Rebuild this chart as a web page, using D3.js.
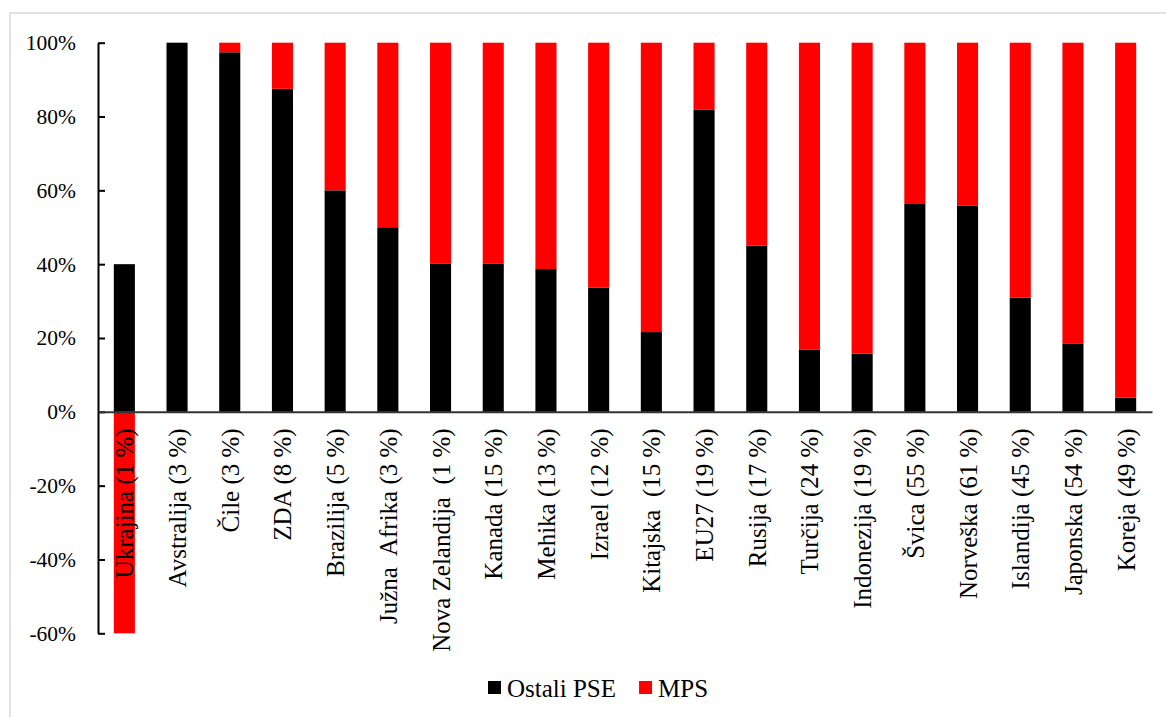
<!DOCTYPE html>
<html>
<head>
<meta charset="utf-8">
<script src="https://cdn.jsdelivr.net/npm/d3@7"></script>
<style>
  body { margin: 0; background: #fff; }
  svg { display: block; }
  svg text { font-family: "Times New Roman", "Liberation Serif", Tinos, "DejaVu Serif", serif; fill: #000; }
</style>
</head>
<body>
<svg id="chart" width="1166" height="717"></svg>
<script>
// Country labels (share of MPS in brackets)
const categories = [
  "Ukrajina (1 %)", "Avstralija (3 %)", "Čile (3 %)", "ZDA (8 %)", "Brazilija (5 %)",
  "Južna  Afrika (3 %)", "Nova Zelandija  (1 %)", "Kanada (15 %)", "Mehika (13 %)", "Izrael (12 %)",
  "Kitajska  (15 %)", "EU27 (19 %)", "Rusija (17 %)", "Turčija (24 %)", "Indonezija (19 %)",
  "Švica (55 %)", "Norveška (61 %)", "Islandija (45 %)", "Japonska (54 %)", "Koreja (49 %)"
];

// Structure of support, % of total
const ostaliPSE = [40, 100, 97.4, 87.5, 60, 50, 40.2, 40.2, 38.7, 33.6,
                   21.6, 81.8, 45, 16.9, 15.8, 56.3, 55.8, 30.9, 18.4, 3.8];
const mps       = [-60, 0, 2.6, 12.5, 40, 50, 59.8, 59.8, 61.3, 66.4,
                   78.4, 18.2, 55, 83.1, 84.2, 43.7, 44.2, 69.1, 81.6, 96.2];

const seriesNames  = ["Ostali PSE", "MPS"];
const seriesColors = ["#000000", "#ff0000"];
const yTicks = [-60, -40, -20, 0, 20, 40, 60, 80, 100];

const serif = '"Times New Roman", "Liberation Serif", Tinos, "DejaVu Serif", serif';
const svg = d3.select("#chart");

// outer frame
svg.append("rect")
  .attr("x", 10).attr("y", 13)
  .attr("width", 1300).attr("height", 800)
  .attr("fill", "none").attr("stroke", "#d9d9d9").attr("stroke-width", 1.5);

const x = d3.scaleBand()
  .domain(categories)
  .range([98, 1152])
  .paddingInner(0.6)
  .paddingOuter(0.3);

const y = d3.scaleLinear()
  .domain([-60, 100])
  .range([633.3, 42.7]);

// rows for the stack layout
const rows = categories.map((c, i) => ({
  category: c,
  [seriesNames[0]]: ostaliPSE[i],
  [seriesNames[1]]: mps[i]
}));

const stacked = d3.stack()
  .keys(seriesNames)
  .offset(d3.stackOffsetDiverging)(rows);

const color = d3.scaleOrdinal().domain(seriesNames).range(seriesColors);

svg.append("g")
  .selectAll("g")
  .data(stacked)
  .join("g")
  .attr("fill", d => color(d.key))
  .selectAll("rect")
  .data(d => d)
  .join("rect")
  .attr("x", d => x(d.data.category))
  .attr("width", x.bandwidth())
  .attr("y", d => y(Math.max(d[0], d[1])))
  .attr("height", d => Math.abs(y(d[0]) - y(d[1])));

// value axis
const yAxis = svg.append("g")
  .attr("transform", "translate(98,0)")
  .call(d3.axisLeft(y)
    .tickValues(yTicks)
    .tickSizeInner(-7)
    .tickSizeOuter(0)
    .tickPadding(22)
    .tickFormat(d => d + "%"));
yAxis.attr("font-family", null);
yAxis.select(".domain").attr("stroke", "#000").attr("stroke-width", 2);
yAxis.selectAll(".tick line").attr("stroke", "#000").attr("stroke-width", 2);
yAxis.selectAll(".tick text")
  .style("font-family", serif)
  .style("font-size", "21.5px")
  .attr("fill", "#000");

// category axis along zero
const xAxis = svg.append("g")
  .attr("transform", `translate(0,${y(0)})`)
  .call(d3.axisBottom(x).tickSize(0).tickSizeOuter(0));
xAxis.attr("font-family", null);
xAxis.select(".domain").attr("stroke", "#333").attr("stroke-width", 2);
xAxis.selectAll(".tick text")
  .attr("transform", "rotate(-90)")
  .attr("x", -16.5)
  .attr("y", 0)
  .attr("dy", "0.36em")
  .style("text-anchor", "end")
  .style("white-space", "pre")
  .style("font-family", serif)
  .style("font-size", "25px")
  .attr("fill", "#000");

// legend
const legend = svg.append("g");
let lx = 488;
seriesNames.forEach((name, i) => {
  legend.append("rect")
    .attr("x", lx).attr("y", 681)
    .attr("width", 13).attr("height", 13)
    .attr("fill", seriesColors[i]);
  const t = legend.append("text")
    .attr("x", lx + 19).attr("y", 697)
    .style("font-family", serif)
    .style("font-size", "25px")
    .text(name);
  lx += 19 + t.node().getComputedTextLength() + 23;
});
</script>
</body>
</html>
